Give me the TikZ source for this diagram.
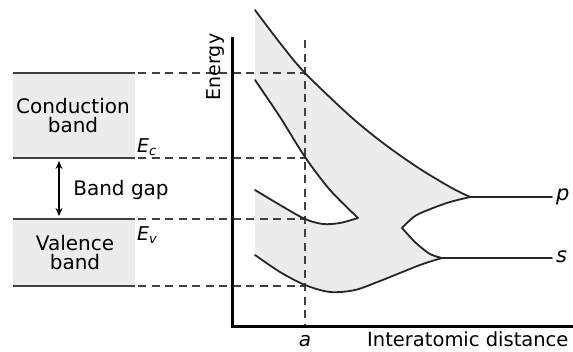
\documentclass[tikz,border=0pt]{standalone}
\usepackage{fontspec}
\setmainfont{DejaVu Sans}
\usetikzlibrary{arrows.meta}
\definecolor{bandgrey}{RGB}{236,236,236}
\begin{document}
\begin{tikzpicture}[x=1pt,y=-1pt,
  bandline/.style={line width=2.4pt,draw=black!75},
  guide/.style={line width=1.5pt,draw=black!75,dash pattern=on 8pt off 5.5pt},
  axisline/.style={line width=3pt,draw=black},
  curve/.style={line width=1.8pt,draw=black!85,line join=round,line cap=round},
  lbl/.style={font=\fontsize{20}{19}\selectfont,inner sep=0pt,align=center},
  elbl/.style={font=\fontsize{19}{19}\selectfont\itshape,inner sep=0pt},
  ]
\useasboundingbox (0,0) rectangle (573,351);

% band rectangles
\fill[bandgrey] (13,73) rectangle (135,158);
\fill[bandgrey] (13,219) rectangle (135,286);

% shaded bands vs distance
\fill[bandgrey]
 plot[smooth] coordinates {(255,10) (280,43) (305,73) (350,116) (383,143) (417,167) (450,187) (470,197)}
 -- plot[smooth] coordinates {(470,197) (450,202) (433,208) (415,216) (402,228)}
 -- plot[smooth] coordinates {(402,228) (416,243) (430,254) (442,258)}
 -- plot[smooth] coordinates {(442,258) (420,265) (380,281) (355,290) (330,292) (305,285) (280,272) (255,255)}
 -- (255,190)
 -- plot[smooth] coordinates {(255,190) (280,205) (305,219) (323,224) (340,223) (358,218)}
 -- plot[smooth] coordinates {(358,218) (330,190) (305,157) (280,117) (255,80)}
 -- cycle;

% coordinates
\coordinate (t1) at (13,73);   \coordinate (t2) at (135,73);
\coordinate (c1) at (13,158);  \coordinate (c2) at (135,158);
\coordinate (v1) at (13,219);  \coordinate (v2) at (135,219);
\coordinate (b1) at (13,286);  \coordinate (b2) at (135,286);
\coordinate (gt) at (138,73);  \coordinate (at) at (305,73);
\coordinate (gc) at (138,158); \coordinate (ac) at (305,158);
\coordinate (gv) at (138,219); \coordinate (av) at (305,219);
\coordinate (gb) at (138,286); \coordinate (ab) at (305,286);
\coordinate (atop) at (305,40); \coordinate (abot) at (305,326);
\coordinate (ytop) at (232,37); \coordinate (orig) at (232,326); \coordinate (xend) at (575,326);
\coordinate (pj) at (470,197); \coordinate (pe) at (552,197);
\coordinate (sj) at (442,258); \coordinate (se) at (552,258);
\coordinate (gapt) at (59,161); \coordinate (gapb) at (59,216);

% guides
\draw[guide] (gt) -- (at);
\draw[guide] (gc) -- (ac);
\draw[guide] (gv) -- (av);
\draw[guide] (gb) -- (ab);
\draw[guide] (atop) -- (abot);

% band lines
\draw[bandline] (t1) -- (t2);
\draw[bandline] (c1) -- (c2);
\draw[bandline] (v1) -- (v2);
\draw[bandline] (b1) -- (b2);

% gap arrow
\draw[line width=1.3pt,{Stealth[length=8pt,width=7pt]}-{Stealth[length=8pt,width=7pt]}] (gapt) -- (gapb);

% axes
\draw[axisline,line join=miter] (ytop) -- (orig) -- (xend);

% curves
\draw[curve] plot[smooth] coordinates {(255,10) (280,43) (305,73) (350,116) (383,143) (417,167) (450,187) (470,197)};
\draw[curve] (pj) -- (pe);
\draw[curve] plot[smooth] coordinates {(470,197) (450,202) (433,208) (415,216) (402,228)};
\draw[curve] plot[smooth] coordinates {(402,228) (416,243) (430,254) (442,258)};
\draw[curve] (sj) -- (se);
\draw[curve] plot[smooth] coordinates {(442,258) (420,265) (380,281) (355,290) (330,292) (305,285) (280,272) (255,255)};
\draw[curve] plot[smooth] coordinates {(255,190) (280,205) (305,219) (323,224) (340,223) (358,218)};
\draw[curve] plot[smooth] coordinates {(358,218) (330,190) (305,157) (280,117) (255,80)};

% labels
\node[lbl] (cond) at (73,116) {Conduction\\band};
\node[lbl] (val) at (75,253) {Valence\\band};
\node[lbl,anchor=base] (gap) at (121,195) {Band gap};
\node[elbl,anchor=base west] (ec) at (137,152) {E\raisebox{-0.3ex}{\fontsize{13}{13}\selectfont c}};
\node[elbl,anchor=base west] (ev) at (137,240) {E\raisebox{-0.3ex}{\fontsize{13}{13}\selectfont v}};
\node[lbl,font=\fontsize{19}{19}\selectfont,rotate=90] (energy) at (216,67) {Energy};
\node[lbl,font=\fontsize{20}{20}\selectfont\itshape,anchor=base] (a) at (305,346) {a};
\node[lbl,font=\fontsize{19.5}{20}\selectfont,anchor=base west] (dist) at (367,346) {Interatomic distance};
\node[lbl,font=\fontsize{21}{21}\selectfont\itshape,anchor=base west] (p) at (556,200) {p};
\node[lbl,font=\fontsize{21}{21}\selectfont\itshape,anchor=base west] (s) at (556,262) {s};
\end{tikzpicture}
\end{document}
